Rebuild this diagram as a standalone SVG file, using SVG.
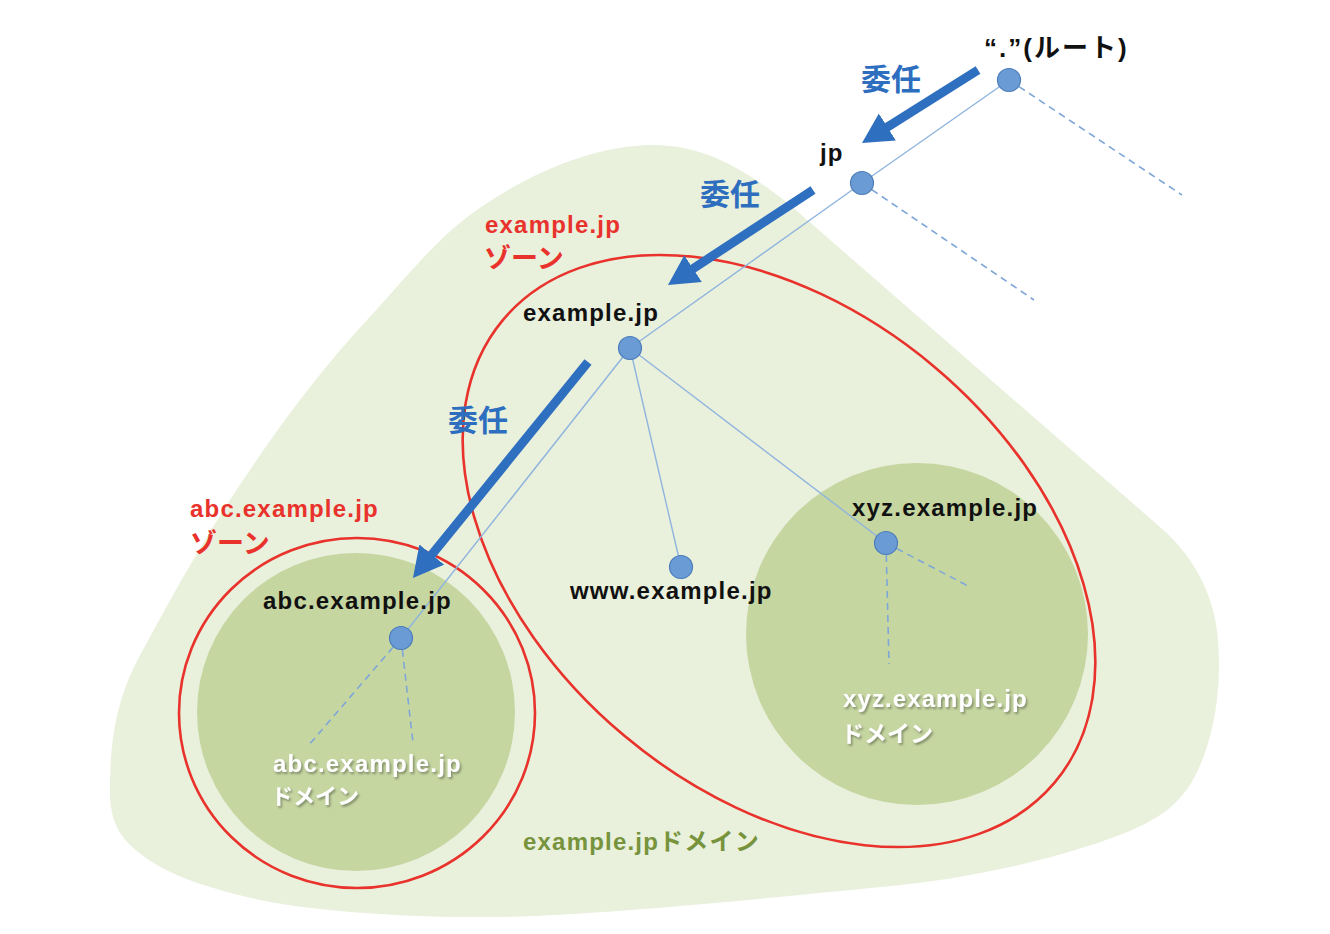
<svg xmlns="http://www.w3.org/2000/svg" width="1330" height="934" viewBox="0 0 1330 934">
<defs>
<style>
.lat{font-family:"Liberation Sans","Noto Sans CJK JP",sans-serif;font-weight:bold;}
.jpn{font-family:"Noto Sans CJK JP","Liberation Sans",sans-serif;font-weight:bold;}
.blk{fill:#111111;font-size:24px;letter-spacing:1.2px;}
.red{fill:#E8322B;}
.blue{fill:#2E6EBF;font-size:30px;}
.wht{fill:#FFFFFF;filter:url(#sh);}
.olive{fill:#77933C;}
.tree{stroke:#8FB4DE;stroke-width:1.4;fill:none;}
.dash{stroke:#7EA7D8;stroke-width:1.6;stroke-dasharray:7 5;fill:none;}
.deleg{stroke:#2F6FC0;stroke-width:9;fill:none;marker-end:url(#ah);}
.node{fill:#6A9BD4;stroke:#4C7DBA;stroke-width:1.2;}
.zone{fill:none;stroke:#E8322B;stroke-width:2.6;}
</style>
<marker id="ah" markerUnits="userSpaceOnUse" markerWidth="34" markerHeight="34" refX="2" refY="16" orient="auto">
<path d="M0,0 L30,16 L0,32 z" fill="#2F6FC0"/>
</marker>
<filter id="sh" x="-10%" y="-20%" width="130%" height="160%">
<feDropShadow dx="1.5" dy="2" stdDeviation="0.8" flood-color="#6E7A5A" flood-opacity="0.8"/>
</filter>
</defs>
<rect width="1330" height="934" fill="#FFFFFF"/>

<g id="example-jp-domain">
<path d="M653,145 C700,145 740,165 790,205 L1160,527 C1195,557 1215,597 1218,640 C1222,690 1214,745 1190,785 C1172,812 1150,822 1125,833 C1050,862 960,880 880,887 C750,900 600,915 500,917 C400,918 300,910 247,897 C185,882 155,868 130,845 C113,828 110,810 110,790 C110,730 120,690 143,650 C175,590 215,520 250,470 C290,410 330,360 367,320 C400,285 430,245 470,215 C520,178 590,145 653,145 Z" fill="#E9F0DC"/>
<text class="lat olive" x="523" y="850" font-size="24" letter-spacing="1.2">example.jpドメイン</text>
</g>

<g id="abc-domain">
<circle cx="356" cy="712" r="159" fill="#C6D6A1"/>
</g>
<g id="xyz-domain">
<circle cx="917" cy="634" r="171" fill="#C6D6A1"/>
</g>

<g id="example-jp-zone">
<ellipse cx="779" cy="551" rx="360" ry="241" transform="rotate(40 779 551)" class="zone"/>
<text class="lat red" x="485" y="233" font-size="24" letter-spacing="1.2">example.jp</text>
<text class="jpn red" x="484" y="268" font-size="27">ゾーン</text>
</g>

<g id="abc-zone">
<ellipse cx="357" cy="713" rx="178" ry="175" class="zone"/>
<text class="lat red" x="190" y="517" font-size="24" letter-spacing="1.2">abc.example.jp</text>
<text class="jpn red" x="190" y="553" font-size="27">ゾーン</text>
</g>

<g id="connectors">
<line class="tree" x1="1009" y1="80" x2="862" y2="183"/>
<line class="tree" x1="862" y1="183" x2="630" y2="348"/>
<line class="tree" x1="630" y1="348" x2="401" y2="638"/>
<line class="tree" x1="630" y1="348" x2="681" y2="567"/>
<line class="tree" x1="630" y1="348" x2="886" y2="543"/>
<line class="dash" x1="1009" y1="80" x2="1182" y2="195"/>
<line class="dash" x1="862" y1="183" x2="1034" y2="300"/>
<line class="dash" x1="886" y1="543" x2="970" y2="587"/>
<line class="dash" x1="886" y1="543" x2="889" y2="664"/>
<line class="dash" x1="401" y1="638" x2="308" y2="746"/>
<line class="dash" x1="401" y1="638" x2="413" y2="743"/>
</g>

<g id="delegation">
<line class="deleg" x1="978" y1="70" x2="885.7" y2="128.1"/>
<line class="deleg" x1="813" y1="190" x2="691.4" y2="269.7"/>
<line class="deleg" x1="588" y1="362" x2="430.6" y2="556.2"/>
<text class="jpn blue" x="861" y="90">委任</text>
<text class="jpn blue" x="700" y="205">委任</text>
<text class="jpn blue" x="448" y="431">委任</text>
</g>

<g id="root">
<circle class="node" cx="1009" cy="80" r="11.5"/>
<text class="lat" x="984" y="57" font-size="26" letter-spacing="2" fill="#111111">“.”(ルート)</text>
</g>
<g id="jp">
<circle class="node" cx="862" cy="183" r="11.5"/>
<text class="lat blk" x="820" y="161">jp</text>
</g>
<g id="example-jp">
<circle class="node" cx="630" cy="348" r="11.5"/>
<text class="lat blk" x="523" y="321">example.jp</text>
</g>
<g id="www-example-jp">
<circle class="node" cx="681" cy="567" r="11.5"/>
<text class="lat blk" x="570" y="599" letter-spacing="1.4">www.example.jp</text>
</g>
<g id="xyz-example-jp">
<circle class="node" cx="886" cy="543" r="11.5"/>
<text class="lat blk" x="852" y="516" letter-spacing="1.3">xyz.example.jp</text>
<text class="lat wht" x="843" y="707" font-size="24" letter-spacing="1.1">xyz.example.jp</text>
<text class="jpn wht" x="841" y="742" font-size="23">ドメイン</text>
</g>
<g id="abc-example-jp">
<circle class="node" cx="401" cy="638" r="11.5"/>
<text class="lat blk" x="263" y="609">abc.example.jp</text>
<text class="lat wht" x="273" y="772" font-size="24" letter-spacing="1.2">abc.example.jp</text>
<text class="jpn wht" x="271" y="804" font-size="22">ドメイン</text>
</g>
</svg>
